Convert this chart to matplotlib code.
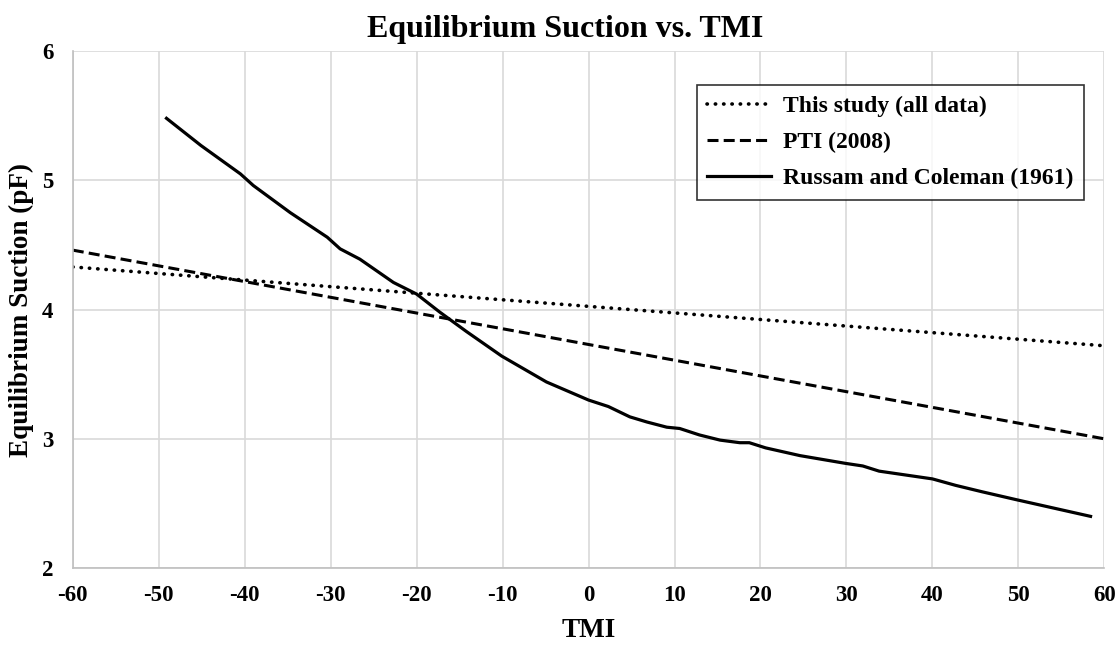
import matplotlib
matplotlib.use("Agg")
import matplotlib.pyplot as plt
import numpy as np

plt.rcParams['font.family'] = ['Liberation Serif', 'DejaVu Serif']
plt.rcParams['font.weight'] = 'bold'
plt.rcParams['axes.unicode_minus'] = False

# trend lines (end points)
study_tmi = [-60, 60]
study_pf = [4.33, 3.72]

pti_tmi = [-60, 60]
pti_pf = [4.46, 3.00]

# Russam and Coleman (1961) curve
russam_tmi = [-49.1, -45.1, -40.5, -39.0, -34.7, -30.4, -28.9, -26.6, -22.7, -20.0,
              -17.3, -14.2, -10.1, -4.9, 0.0, 2.3, 4.8, 6.8, 9.1, 10.6, 12.9, 15.3,
              17.6, 18.7, 20.6, 24.6, 29.9, 31.9, 33.8, 40.0, 42.7, 45.8, 49.7, 58.4]
russam_pf = [5.48, 5.27, 5.05, 4.96, 4.75, 4.56, 4.47, 4.39, 4.21, 4.12,
             3.98, 3.83, 3.64, 3.44, 3.30, 3.25, 3.17, 3.13, 3.09, 3.08, 3.03, 2.99,
             2.97, 2.97, 2.93, 2.87, 2.81, 2.79, 2.75, 2.69, 2.64, 2.59, 2.53, 2.40]

x_ticks = np.arange(-60, 61, 10)
y_ticks = [2, 3, 4, 5, 6]

fig = plt.figure(figsize=(11.2, 6.47), dpi=100)
ax = fig.add_axes([0.065, 0.122, 0.921, 0.799])

ax.plot(study_tmi, study_pf, color='black', lw=2.6, linestyle=(0, (0.1, 2.2)),
        dash_capstyle='round', label='This study (all data)')
ax.plot(pti_tmi, pti_pf, color='black', lw=2.2, linestyle=(0, (3.6, 1.7)),
        label='PTI (2008)')
ax.plot(russam_tmi, russam_pf, color='black', lw=2.3, label='Russam and Coleman (1961)')

ax.set_xlim(-60, 60)
ax.set_ylim(2, 6)
ax.set_xticks(x_ticks)
ax.set_yticks(y_ticks)
ax.tick_params(length=0, labelsize=16.5)
ax.tick_params(axis='x', pad=12)
ax.tick_params(axis='y', pad=14)
for lab in ax.get_xticklabels() + ax.get_yticklabels():
    lab.set_fontweight('bold')
ax.grid(True, color='#d9d9d9', lw=1.2)
ax.set_axisbelow(True)
for side in ['top', 'right']:
    ax.spines[side].set_visible(False)
for side in ['left', 'bottom']:
    ax.spines[side].set_color('#bfbfbf')
    ax.spines[side].set_linewidth(1.2)

# title is centred on the whole chart, not on the plot area
fig.text(0.505, 0.943, 'Equilibrium Suction vs. TMI', fontsize=23, fontweight='bold',
         ha='center', va='baseline')
ax.set_xlabel('TMI', fontsize=19.5, fontweight='bold', labelpad=9)
ax.set_ylabel('Equilibrium Suction (pF)', fontsize=19.5, fontweight='bold', labelpad=6)

leg = ax.legend(loc='upper left', bbox_to_anchor=(0.605, 0.935), fontsize=17,
                frameon=True, fancybox=False, edgecolor='black', handlelength=2.7,
                handletextpad=0.5, borderpad=0.45, labelspacing=0.62,
                borderaxespad=0)
leg.get_frame().set_linewidth(1.2)
for t in leg.get_texts():
    t.set_fontweight('bold')

fig.savefig('out.png', dpi=100)
